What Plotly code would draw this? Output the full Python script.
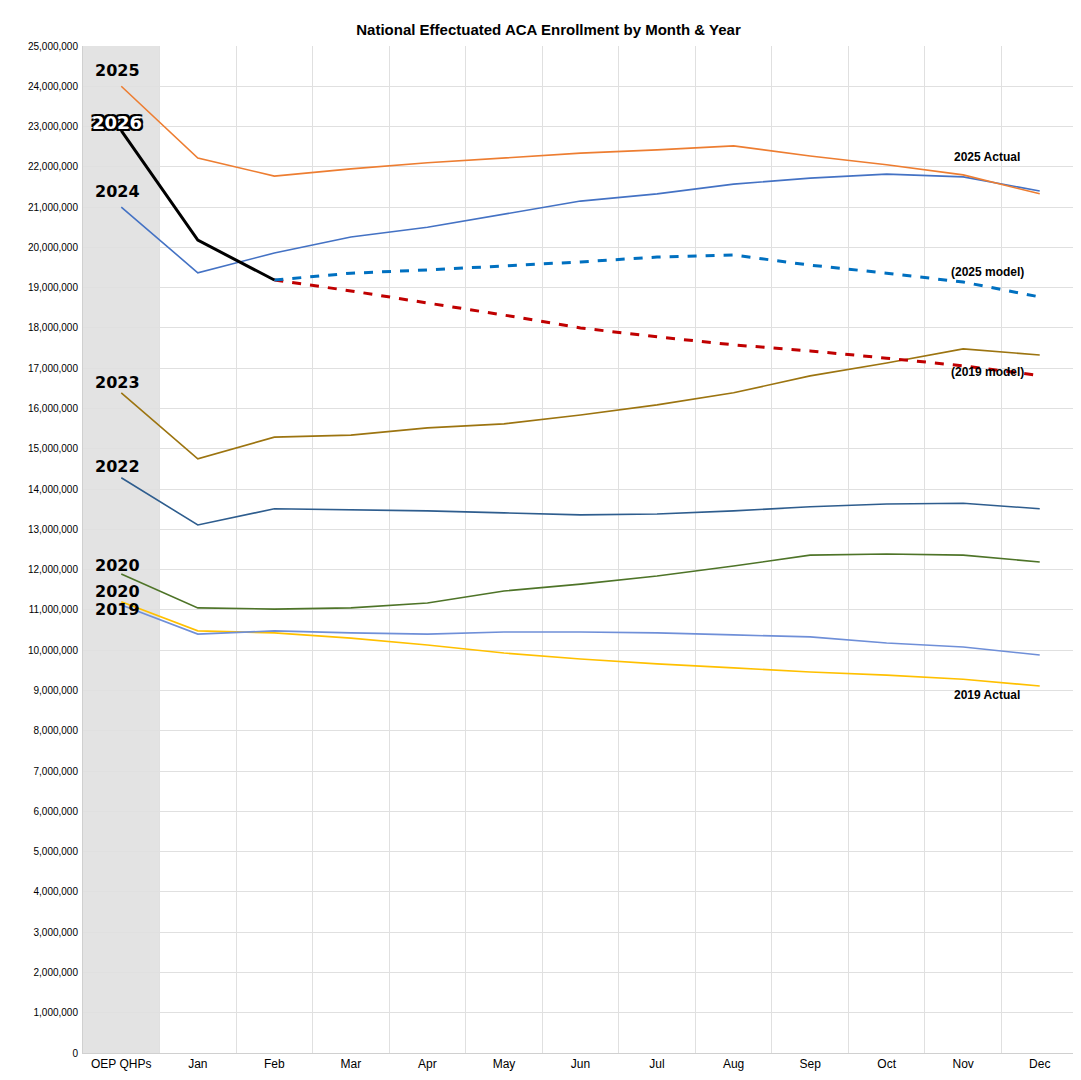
import plotly.graph_objects as go

months = ["OEP QHPs", "Jan", "Feb", "Mar", "Apr", "May", "Jun", "Jul", "Aug", "Sep", "Oct", "Nov", "Dec"]

y2025 = [24.0, 22.22, 21.77, 21.95, 22.1, 22.22, 22.34, 22.42, 22.52, 22.27, 22.05, 21.8, 21.33]
y2024 = [21.0, 19.37, 19.86, 20.26, 20.5, 20.83, 21.15, 21.33, 21.57, 21.72, 21.82, 21.75, 21.4]
y2026 = [22.9, 20.18, 19.19]
model2025 = [19.19, 19.36, 19.44, 19.54, 19.64, 19.76, 19.81, 19.56, 19.36, 19.14, 18.77]
model2019 = [19.19, 18.92, 18.62, 18.32, 18.0, 17.78, 17.58, 17.43, 17.25, 17.06, 16.82]
y2023 = [16.39, 14.75, 15.29, 15.34, 15.52, 15.62, 15.84, 16.09, 16.39, 16.81, 17.13, 17.48, 17.33]
y2022 = [14.28, 13.11, 13.51, 13.48, 13.46, 13.41, 13.36, 13.38, 13.46, 13.56, 13.63, 13.65, 13.51]
y2020 = [11.89, 11.05, 11.02, 11.05, 11.17, 11.47, 11.64, 11.84, 12.09, 12.36, 12.39, 12.36, 12.19]
y2019b = [11.12, 10.4, 10.48, 10.43, 10.4, 10.45, 10.45, 10.43, 10.38, 10.33, 10.18, 10.08, 9.88]
y2019 = [11.2, 10.48, 10.43, 10.3, 10.13, 9.93, 9.78, 9.66, 9.56, 9.46, 9.38, 9.28, 9.11]

M = 1_000_000
fig = go.Figure()

def add(x, y, color, width=1.6, dash="solid"):
    fig.add_trace(go.Scatter(x=x, y=[v * M for v in y], mode="lines",
                             line=dict(color=color, width=width, dash=dash),
                             showlegend=False, hoverinfo="skip"))

add(months, y2019, "#ffc000")
add(months, y2019b, "#6f8fd8")
add(months, y2020, "#4e7428")
add(months, y2022, "#2e5d8e")
add(months, y2023, "#9c7410")
add(months, y2024, "#4472c4")
add(months, y2025, "#ed7d31")
add(months[2:], model2019, "#c00000", 3, "dash")
add(months[2:], model2025, "#0070c0", 3, "dash")
add(months[:3], y2026, "#000000", 3)

fig.add_vrect(x0=-0.5, x1=0.5, fillcolor="#e3e3e3", line_width=0, layer="below")

lbl = dict(family="DejaVu Sans", size=16, color="black")
for txt, yv in [("2025", 24.4), ("2024", 21.4), ("2023", 16.65), ("2022", 14.55),
                ("2020", 12.1), ("2020", 11.45), ("2019", 11.0)]:
    fig.add_annotation(x="OEP QHPs", y=yv * M, text="<b>" + txt + "</b>", showarrow=False,
                       xshift=-4, font=lbl)
fig.add_annotation(x="OEP QHPs", y=23.1 * M, text="<b>2026</b>", showarrow=False, xshift=-4,
                   font=dict(family="DejaVu Sans", size=18, color="white",
                             shadow="2px 2px 0 #000, -2px -2px 0 #000, 2px -2px 0 #000, -2px 2px 0 #000"))

side = dict(family="Arial, Liberation Sans", size=12, color="black")
for txt, m, yv in [("2025 Actual", "Nov", 22.25), ("(2025 model)", "Nov", 19.4),
                   ("(2019 model)", "Nov", 16.9), ("2019 Actual", "Nov", 8.9)]:
    fig.add_annotation(x=m, y=yv * M, text="<b>" + txt + "</b>", showarrow=False, xshift=24, font=side)

fig.update_layout(
    width=1081, height=1080,
    paper_bgcolor="white", plot_bgcolor="white",
    margin=dict(l=75, r=11, t=38, b=35),
    title=dict(text="<b>National Effectuated ACA Enrollment by Month & Year</b>", x=0.5, y=0.985,
               xanchor="center", font=dict(family="Arial, Liberation Sans", size=15, color="black")),
    font=dict(family="Arial, Liberation Sans", size=11, color="black"),
)
fig.update_xaxes(type="category", categoryorder="array", categoryarray=months, range=[-0.5, 12.5],
                 tickson="boundaries", showgrid=True, gridcolor="#e0e0e0", ticks="", automargin=False,
                 tickfont=dict(size=12), showline=True, linecolor="#d0d0d0")
fig.update_yaxes(range=[0, 25 * M], dtick=M, tickformat=",d", showgrid=True, gridcolor="#e0e0e0",
                 zeroline=False, tickfont=dict(size=10), showline=True, linecolor="#d0d0d0",
                 automargin=False, ticklabelstandoff=2)

fig.write_html("out.html")
